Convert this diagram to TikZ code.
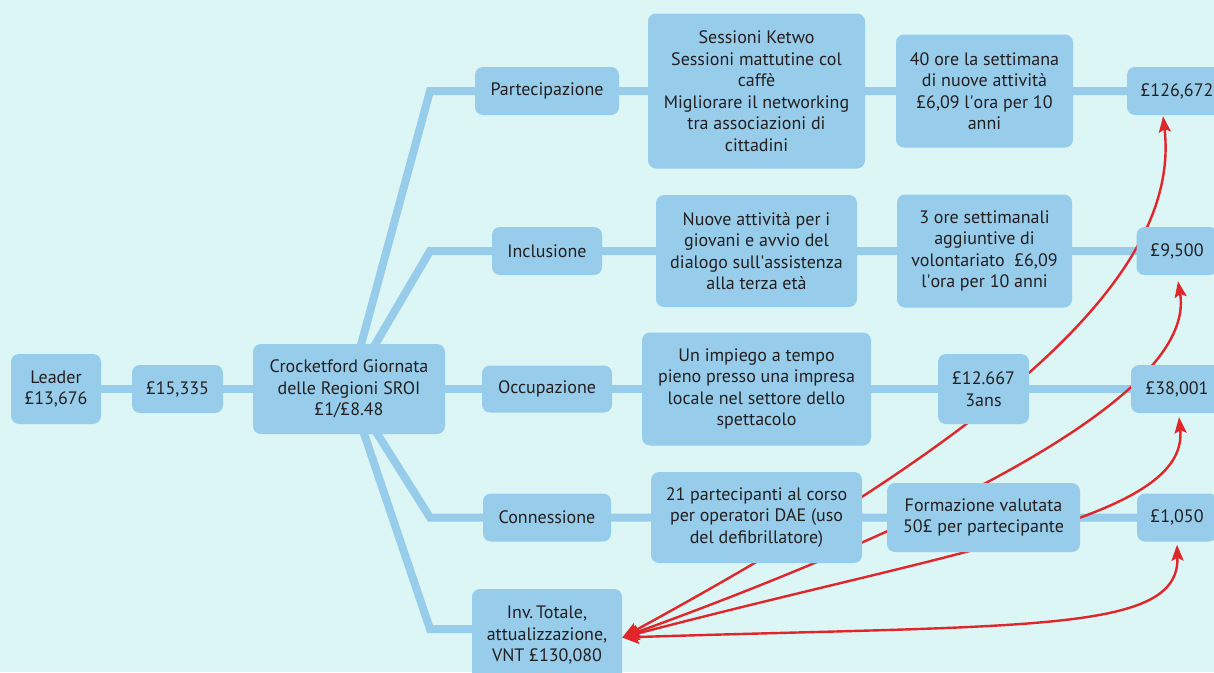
\documentclass[tikz,border=0pt]{standalone}
\usepackage{fontspec}
\setmainfont{PT Sans}
\usetikzlibrary{arrows.meta}
\definecolor{bg}{HTML}{DCF5F5}
\definecolor{boxblue}{HTML}{97CDEA}
\definecolor{arrowred}{HTML}{E0262A}
\definecolor{ink}{HTML}{231F20}
\pgfdeclarelayer{back}
\pgfdeclarelayer{mid}
\pgfsetlayers{back,mid,main}

\begin{document}
\begin{tikzpicture}[x=1pt,y=-1pt,
  box/.style={fill=boxblue, rounded corners=8pt, align=center, text=ink,
    font=\fontsize{18}{21.5}\selectfont, inner sep=0pt},
  link/.style={draw=boxblue, line width=8pt},
  flow/.style={draw=arrowred, line width=2.4pt,
    {Stealth[length=17pt,width=14pt,inset=3pt]}-{Stealth[length=16pt,width=12pt,inset=3pt]}}
]
\useasboundingbox (0,0) rectangle (1214,672);
\clip (0,0) rectangle (1214,672);

% left part of the tree
\node[box, minimum width=90pt, minimum height=70pt] (leader) at (56,389) {Leader\\£13,676};
\node[box, minimum width=91pt, minimum height=48pt] (fund) at (177.5,389) {£15,335};
\node[box, minimum width=192pt, minimum height=90pt] (cro) at (349,389) {Crocketford Giornata\\delle Regioni SROI\\£1/£8.48};

% outcome categories
\node[box, minimum width=144pt, minimum height=48pt] (part) at (547,91) {Partecipazione};
\node[box, minimum width=110pt, minimum height=48pt] (incl) at (547,251) {Inclusione};
\node[box, minimum width=130pt, minimum height=47pt] (occ) at (547,389) {Occupazione};
\node[box, minimum width=128pt, minimum height=48pt] (conn) at (547,517.5) {Connessione};
\node[box, minimum width=150pt, minimum height=93pt] (inv) at (547,635.5) {Inv.\,Totale,\\attualizzazione,\\VNT £130,080};

% activities
\node[box, minimum width=217pt, minimum height=155pt] (sess) at (756.5,91) {Sessioni Ketwo\\Sessioni mattutine col\\caffè\\Migliorare il networking\\tra associazioni di\\cittadini};
\node[box, minimum width=201pt, minimum height=112pt] (nuove) at (756.5,251) {Nuove attività per i\\giovani e avvio del\\dialogo sull\textquotesingle assistenza\\alla terza età};
\node[box, minimum width=229pt, minimum height=113pt] (imp) at (756.5,389) {Un impiego a tempo\\pieno presso una impresa\\locale nel settore dello\\spettacolo};
\node[box, minimum width=211pt, minimum height=91pt] (corso) at (756.5,517.5) {21 partecipanti al corso\\per operatori DAE (uso\\del defibrillatore)};

% valuations
\node[box, minimum width=177pt, minimum height=113pt] (ore40) at (984.5,91) {40 ore la settimana\\di nuove attività\\£6,09 l\textquotesingle ora per 10\\anni};
\node[box, minimum width=175pt, minimum height=113pt] (ore3) at (984.5,251) {3 ore settimanali\\aggiuntive di\\volontariato\ \ £6,09\\l\textquotesingle ora per 10 anni};
\node[box, minimum width=91pt, minimum height=70pt] (yrs) at (983.5,389) {£12.667\\3ans};
\node[box, minimum width=193pt, minimum height=69pt] (form) at (983.5,517.5) {Formazione valutata\\50£ per partecipante};

% results
\node[box, minimum width=100pt, minimum height=48pt] (r1) at (1177,91) {£126,672};
\node[box, minimum width=81pt, minimum height=48pt] (r2) at (1177,251) {£9,500};
\node[box, minimum width=92pt, minimum height=48pt] (r3) at (1177,389) {£38,001};
\node[box, minimum width=80pt, minimum height=48pt] (r4) at (1177,517.5) {£1,050};

% bends of the branches
\coordinate (b1) at (430,91);
\coordinate (b2) at (430,251);
\coordinate (b4) at (430,517.5);
\coordinate (b5) at (430,629);

\begin{pgfonlayer}{back}
  \fill[bg] (0,0) rectangle (1214,672);
  \draw[link] (leader.center) -- (fund.center) -- (cro.center) -- (occ.center)
    -- (imp.center) -- (yrs.center) -- (r3.center);
  \draw[link] (cro.center) -- (b1) -- (part.center) -- (sess.center) -- (ore40.center) -- (r1.center);
  \draw[link] (cro.center) -- (b2) -- (incl.center) -- (nuove.center) -- (ore3.center) -- (r2.center);
  \draw[link] (cro.center) -- (b4) -- (conn.center) -- (corso.center) -- (form.center) -- (r4.center);
  \draw[link] (cro.center) -- (b5) -- (inv.west |- b5);
\end{pgfonlayer}

\begin{pgfonlayer}{mid}
  \draw[flow] ([yshift=-2pt]inv.east) .. controls +(352,-192) and +(20,168) .. ([xshift=-14pt,yshift=-1pt]r1.south);
  \draw[flow] ([yshift=-2pt]inv.east) .. controls +(292,-106) and +(20,118) .. ([xshift=1pt,yshift=-6pt]r2.south);
  \draw[flow] ([yshift=-2pt]inv.east) .. controls +(344,-90) and +(10,101) .. ([xshift=2pt,yshift=-4pt]r3.south);
  \draw[flow] ([yshift=-2pt]inv.east) .. controls +(406,-13) and +(3,89) .. ([yshift=-3pt]r4.south);
\end{pgfonlayer}
\end{tikzpicture}
\end{document}
